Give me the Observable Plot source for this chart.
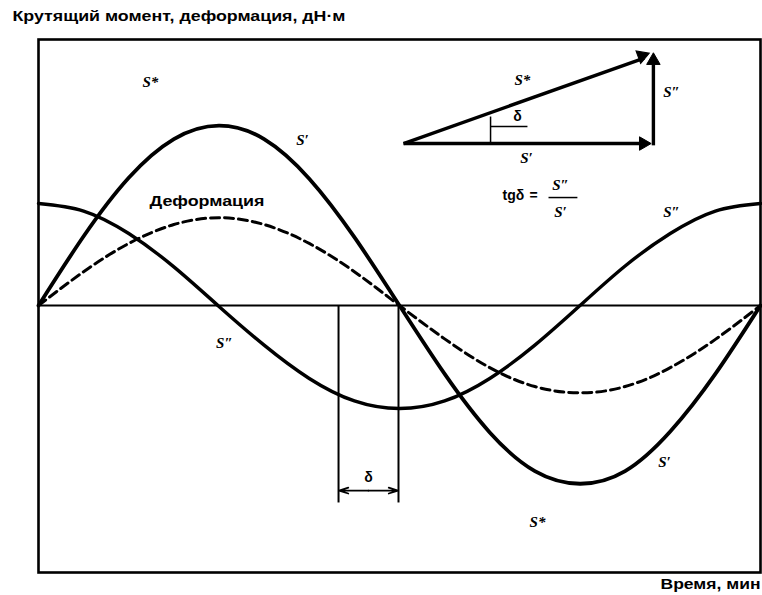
<!DOCTYPE html>
<html>
<head>
<meta charset="utf-8">
<script src="https://cdn.jsdelivr.net/npm/d3@7"></script>
<script src="https://cdn.jsdelivr.net/npm/@observablehq/plot@0.6"></script>
<style>
  html, body { margin: 0; padding: 0; background: #fff; }
  #chart { width: 762px; height: 595px; }
</style>
</head>
<body>
<div id="chart"></div>
<script>
// Phase angle over one cycle (degrees of time axis)
const angles   = [0, 22.5, 45, 67.5, 90, 112.5, 135, 157.5, 180, 202.5, 225, 247.5, 270, 292.5, 315, 337.5, 360];
// S' — in-phase (elastic) torque
const sPrime   = [0, 3.85, 7.1, 9.25, 10, 9.25, 7.05, 3.8, 0, -3.8, -7.05, -9.2, -9.9, -9.2, -7.0, -3.8, 0];
// S'' — out-of-phase (viscous) torque
const sDouble  = [5.67, 5.25, 4.0, 2.15, -0.05, -2.2, -4.05, -5.3, -5.72, -5.3, -4.05, -2.2, 0, 2.2, 4.0, 5.25, 5.67];
// Deformation (strain)
const strain   = [0, 1.88, 3.45, 4.5, 4.88, 4.5, 3.45, 1.88, 0, -1.85, -3.45, -4.5, -4.85, -4.5, -3.45, -1.88, 0];

const titleText = "Крутящий момент, деформация, дН·м";
const xLabel = "Время, мин";

// annotation labels (data coordinates)
const symLabels = [
  {x: 55.8,  y: 12.39, t: "S*"},
  {x: 131.6, y: 9.17,  t: "S\u2032"},
  {x: 92.7,  y: -2.11, t: "S\u2033"},
  {x: 312.1, y: -8.72, t: "S\u2032"},
  {x: 248.8, y: -12.06, t: "S*"},
  {x: 315.6, y: 5.17,  t: "S\u2033"},
  {x: 241.3, y: 12.5,  t: "S*"},
  {x: 315.6, y: 11.83, t: "S\u2033"},
  {x: 243.3, y: 8.17,  t: "S\u2032"},
  {x: 260.3, y: 6.67,  t: "S\u2033"},
  {x: 260.3, y: 5.17,  t: "S\u2032"}
];
const sansLabels = [
  {x: 84.0,  y: 5.78, t: "Деформация"},
  {x: 236.8, y: 6.11, t: "tgδ"},
  {x: 246.8, y: 6.11, t: "="},
  {x: 238.8, y: 10.5, t: "δ"},
  {x: 164.5, y: -9.56, t: "δ"}
];
// vector triangle: shafts and filled heads
const vectors = [
  {x1: 182.0, y1: 9.0, x2: 302.0, y2: 13.75},   // S*
  {x1: 182.0, y1: 9.0, x2: 303.0, y2: 9.0},     // S'
  {x1: 306.6, y1: 8.9, x2: 306.6, y2: 13.4}     // S''
];
const heads = [
  {x: 300.9, y: 13.87, rot: 69.8},
  {x: 301.6, y: 9.0,   rot: 90},
  {x: 306.6, y: 13.61, rot: 0}
];
const segs = [
  {x1: 254.3, y1: 6.0, x2: 268.7, y2: 6.0, w: 1.5},     // fraction bar
  {x1: 225.4, y1: 10.5, x2: 225.4, y2: 9.0, w: 1.5},    // angle mark
  {x1: 225.4, y1: 9.94, x2: 243.8, y2: 9.94, w: 1.5},
  {x1: 149.6, y1: 0, x2: 149.6, y2: -10.94, w: 2},      // delta bracket
  {x1: 179.5, y1: 0, x2: 179.5, y2: -10.94, w: 2}
];
const deltaArrows = [
  {x1: 164.5, y1: -10.28, x2: 149.9, y2: -10.28},
  {x1: 164.5, y1: -10.28, x2: 179.2, y2: -10.28}
];

const toRows = vals => angles.map((a, i) => ({a, v: vals[i]}));

const chart = Plot.plot({
  width: 762,
  height: 595,
  marginLeft: 38,
  marginRight: 2,
  marginTop: 39,
  marginBottom: 23,
  x: {domain: [0, 360], axis: null},
  y: {domain: [-14.83, 14.78], axis: null},
  style: {fontFamily: "Liberation Sans, Arial, sans-serif", background: "#fff", color: "#000"},
  marks: [
    Plot.ruleY([0], {stroke: "#000", strokeWidth: 2}),
    Plot.line(toRows(strain), {x: "a", y: "v", curve: "natural", stroke: "#000", strokeWidth: 3, strokeDasharray: "9,5"}),
    Plot.line(toRows(sDouble), {x: "a", y: "v", curve: "natural", stroke: "#000", strokeWidth: 3.4}),
    Plot.line(toRows(sPrime), {x: "a", y: "v", curve: "natural", stroke: "#000", strokeWidth: 3.8}),
    Plot.link(segs, {x1: "x1", y1: "y1", x2: "x2", y2: "y2", stroke: "#000", strokeWidth: "w"}),
    Plot.link(vectors, {x1: "x1", y1: "y1", x2: "x2", y2: "y2", stroke: "#000", strokeWidth: 3.4}),
    Plot.dot(heads, {x: "x", y: "y", rotate: "rot", symbol: "triangle", r: 5, fill: "#000", stroke: "#000", strokeWidth: 1}),
    Plot.arrow(deltaArrows, {x1: "x1", y1: "y1", x2: "x2", y2: "y2", stroke: "#000", strokeWidth: 1.8, headLength: 8, headAngle: 35}),
    Plot.text(symLabels, {x: "x", y: "y", text: "t", fontFamily: "Liberation Serif", fontStyle: "italic", fontWeight: "bold", fontSize: 15, fill: "#000"}),
    Plot.text(sansLabels, {x: "x", y: "y", text: "t", fontWeight: "bold", fontSize: 14, fill: "#000"}),
    Plot.text([titleText], {frameAnchor: "top-left", dx: -26, dy: -23, textAnchor: "start", lineAnchor: "middle", fontWeight: "bold", fontSize: 14, fill: "#000"}),
    Plot.text([xLabel], {frameAnchor: "bottom-right", dx: 0, dy: 12, textAnchor: "end", lineAnchor: "middle", fontWeight: "bold", fontSize: 14, fill: "#000"}),
    Plot.frame({stroke: "#000", strokeWidth: 2.6})
  ]
});
document.getElementById("chart").appendChild(chart);

// stretch the heavy, wide sans captions to the widths they span in the original
const stretch = {[titleText]: 333, [xLabel]: 100, "Деформация": 115};
d3.select(chart).selectAll("text").each(function () {
  const w = stretch[this.textContent];
  if (w) d3.select(this).attr("textLength", w).attr("lengthAdjust", "spacingAndGlyphs");
});
</script>
</body>
</html>
